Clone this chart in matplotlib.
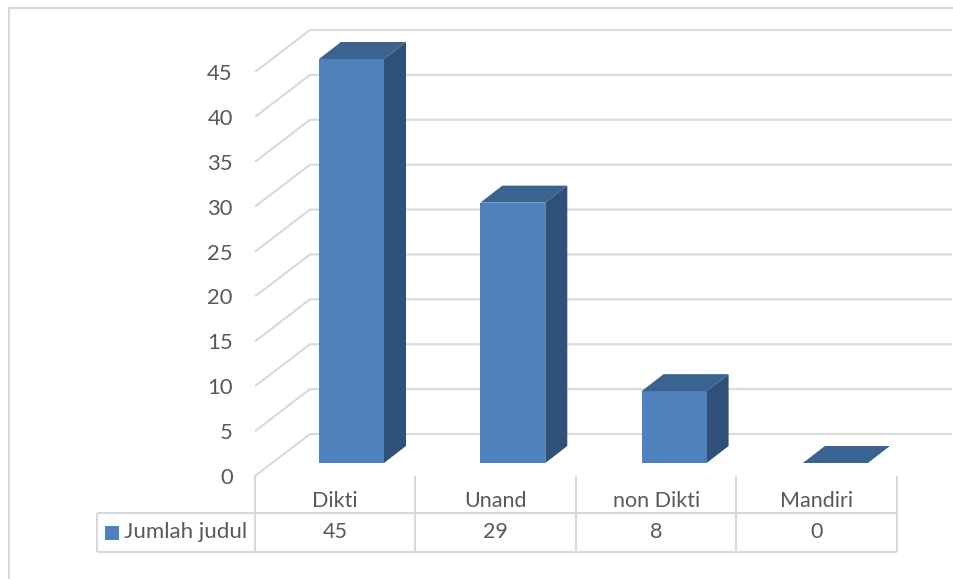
import matplotlib
matplotlib.use("Agg")
import matplotlib.pyplot as plt
from matplotlib.patches import Polygon, Rectangle

# chart data
categories = ["Dikti", "Unand", "non Dikti", "Mandiri"]
values = [45, 29, 8, 0]
series_name = "Jumlah judul"
y_ticks = [0, 5, 10, 15, 20, 25, 30, 35, 40, 45]

W, H = 954, 579
LEFT, RIGHT = 255.0, 897.0      # front plane, pixels
Y0, Y45 = 476.0, 72.0
PX_X = (RIGHT - LEFT) / 4       # pixels per category
PX_Y = (Y0 - Y45) / 45          # pixels per value unit

GRID = "#D9D9D9"
TEXT = "#595959"
FRONT = "#4F81BD"
SIDE = "#2F5078"
TOP = "#3B6391"
LW = 1.5

plt.rcParams["font.family"] = ["Lato", "DejaVu Sans"]

fig = plt.figure(figsize=(W / 100, H / 100), dpi=100)
ax = fig.add_axes([LEFT / W, 1 - Y0 / H, (RIGHT - LEFT) / W, (Y0 - Y45) / H])
ax.set_xlim(-0.5, 3.5)
ax.set_ylim(0, 45)
for s in ax.spines.values():
    s.set_visible(False)
ax.patch.set_alpha(0)


def dx(px):
    return px / PX_X


def dy(px):
    return px / PX_Y


def line(xs, ys, **kw):
    ax.plot(xs, ys, color=GRID, lw=LW, clip_on=False, solid_capstyle="butt", **kw)


# back wall: gridlines and the diagonal floor lines
x_back = -0.5 + dx(55)
x_end = -0.5 + dx(697)
for v in y_ticks:
    line([-0.5, x_back, x_end], [v, v + dy(42), v + dy(42)], zorder=1)

# 3d bars
BAR_W = dx(65)
BAR_STEP = dx(161.3)
OFF_X = dx(64)
OFF_Y = dy(13)
DEPTH_X = dx(22)
DEPTH_Y = dy(17)
for i, v in enumerate(values):
    x0 = -0.5 + OFF_X + i * BAR_STEP
    x1 = x0 + BAR_W
    y0 = OFF_Y
    y1 = OFF_Y + v
    if v > 0:
        ax.add_patch(Polygon([(x1, y0), (x1 + DEPTH_X, y0 + DEPTH_Y),
                              (x1 + DEPTH_X, y1 + DEPTH_Y), (x1, y1)],
                             fc=SIDE, ec="none", zorder=3, clip_on=False))
        ax.add_patch(Rectangle((x0, y0), BAR_W, v, fc=FRONT, ec="none", zorder=3, clip_on=False))
    ax.add_patch(Polygon([(x0, y1), (x1, y1), (x1 + DEPTH_X, y1 + DEPTH_Y),
                          (x0 + DEPTH_X, y1 + DEPTH_Y)],
                         fc=TOP, ec="none", zorder=3, clip_on=False))

# axis labels
ax.set_yticks(y_ticks)
ax.set_yticklabels([str(v) for v in y_ticks], fontsize=15.8, color=TEXT)
ax.set_xticks(range(len(categories)))
ax.set_xticklabels(categories, fontsize=15.5, color=TEXT)
ax.tick_params(axis="y", length=0, pad=16)
ax.tick_params(axis="x", length=0, pad=10.5)

# data table under the plot
row_mid = -dy(37)
row_bot = -dy(76)
x_legend = -0.5 - dx(158)
for i in range(len(categories) + 1):
    line([i - 0.5, i - 0.5], [0, row_bot], zorder=1)
line([x_legend, 3.5], [row_mid, row_mid], zorder=1)
line([x_legend, 3.5], [row_bot, row_bot], zorder=1)
line([x_legend, x_legend], [row_mid, row_bot], zorder=1)

row_y = (row_mid + row_bot) / 2
for i, v in enumerate(values):
    ax.text(i, row_y, str(v), ha="center", va="center", fontsize=15.5, color=TEXT, clip_on=False)
ax.add_patch(Rectangle((x_legend + dx(8), row_y - dy(7)), dx(14), dy(14), fc=FRONT, ec="none", clip_on=False))
ax.text(x_legend + dx(27), row_y, series_name, ha="left", va="center", fontsize=16, color=TEXT, clip_on=False)

# outer chart border (top and left only show in the crop)
fig.add_artist(plt.Line2D([9 / W, 9 / W, 1], [0, 1 - 8 / H, 1 - 8 / H], color=GRID, lw=LW))

fig.savefig("out.png", dpi=100)
